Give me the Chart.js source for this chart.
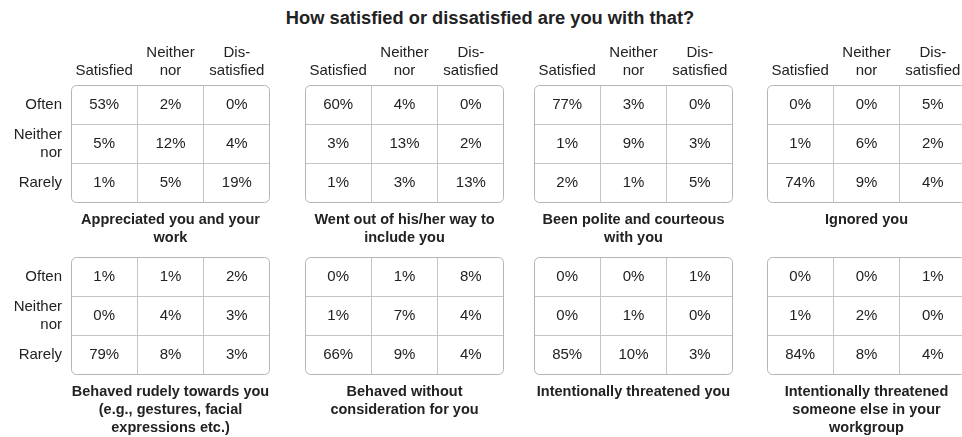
<!DOCTYPE html>
<html>
<head>
<meta charset="utf-8">
<script src="https://cdn.jsdelivr.net/npm/chart.js@4"></script>
<style>
    html, body { margin: 0; padding: 0; background: #fff; overflow: hidden; width: 962px; height: 437px; }
    body { position: relative; font-family: "Liberation Sans", Arial, sans-serif; color: #222; }
    #mainTitle {
        position: absolute; top: 7px; left: 490px; transform: translateX(-50%);
        font-weight: bold; font-size: 18.3px; line-height: 22px; white-space: nowrap;
    }
    canvas { position: absolute; }
</style>
</head>
<body>
<div id="mainTitle">How satisfied or dissatisfied are you with that?</div>

<script>
// Kategori
const satisfaction = ['Satisfied', 'Neither nor', 'Dis- satisfied'];
const frequency = ['Often', 'Neither nor', 'Rarely'];

// Nilai per panel (baris: Often, Neither nor, Rarely)
const appreciated = [[53, 2, 0], [5, 12, 4], [1, 5, 19]];
const wentOutOfWay = [[60, 4, 0], [3, 13, 2], [1, 3, 13]];
const polite = [[77, 3, 0], [1, 9, 3], [2, 1, 5]];
const ignored = [[0, 0, 5], [1, 6, 2], [74, 9, 4]];
const rude = [[1, 1, 2], [0, 4, 3], [79, 8, 3]];
const withoutConsideration = [[0, 1, 8], [1, 7, 4], [66, 9, 4]];
const threatenedYou = [[0, 0, 1], [0, 1, 0], [85, 10, 3]];
const threatenedOthers = [[0, 0, 1], [1, 2, 0], [84, 8, 4]];

// Judul panel
const titleAppreciated = ['Appreciated you and your', 'work'];
const titleWentOut = ['Went out of his/her way to', 'include you'];
const titlePolite = ['Been polite and courteous', 'with you'];
const titleIgnored = ['Ignored you'];
const titleRude = ['Behaved rudely towards you', '(e.g., gestures, facial', 'expressions etc.)'];
const titleWithout = ['Behaved without', 'consideration for you'];
const titleThreatYou = ['Intentionally threatened you'];
const titleThreatOthers = ['Intentionally threatened', 'someone else in your', 'workgroup'];

const FONT = '"Liberation Sans", Arial, sans-serif';
const TEXT = '#222';
const GRID = '#c4c4c4';
const BORDER = '#b4b4b4';

const AXIS_W = 65, AXIS_H = 45, AREA_W = 199, AREA_H = 118, TITLE_H = 70;

// Kotak tabel dengan sudut membulat
const boxPlugin = {
    id: 'tableBox',
    afterDatasetsDraw(chart) {
        const a = chart.chartArea;
        const ctx = chart.ctx;
        ctx.save();
        ctx.strokeStyle = BORDER;
        ctx.lineWidth = 1;
        ctx.beginPath();
        ctx.roundRect(a.left + 0.5, a.top + 0.5, a.right - a.left - 1, a.bottom - a.top - 1, 5);
        ctx.stroke();
        ctx.restore();
    }
};

// Angka persen di tengah sel
const cellPlugin = {
    id: 'cellText',
    afterDatasetsDraw(chart) {
        const ctx = chart.ctx;
        const meta = chart.getDatasetMeta(0);
        const data = chart.data.datasets[0].data;
        ctx.save();
        ctx.font = '15px ' + FONT;
        ctx.fillStyle = TEXT;
        ctx.textAlign = 'center';
        ctx.textBaseline = 'middle';
        meta.data.forEach((pt, i) => {
            ctx.fillText(data[i].v + '%', pt.x, pt.y);
        });
        ctx.restore();
    }
};

function gridColor(ctx) {
    if (ctx.type !== 'tick' || ctx.index === 0) return 'transparent';
    return GRID;
}

function makePanel(left, top, values, title, showHeader, showRows) {
    const canvas = document.createElement('canvas');
    canvas.width = AXIS_W * 2 + AREA_W;
    canvas.height = AXIS_H + AREA_H + TITLE_H;
    canvas.style.left = (left - AXIS_W) + 'px';
    canvas.style.top = (top - AXIS_H) + 'px';
    document.body.appendChild(canvas);

    const points = [];
    values.forEach((row, r) => {
        row.forEach((v, c) => {
            points.push({ x: satisfaction[c], y: frequency[r], v: v });
        });
    });

    new Chart(canvas.getContext('2d'), {
        type: 'scatter',
        data: {
            datasets: [{ data: points, pointRadius: 0, pointHoverRadius: 0 }]
        },
        options: {
            responsive: false,
            animation: false,
            events: [],
            layout: { padding: 0 },
            plugins: {
                legend: { display: false },
                tooltip: { enabled: false },
                title: {
                    display: true,
                    position: 'bottom',
                    fullSize: true,
                    text: title,
                    color: TEXT,
                    font: { family: FONT, size: 14.5, weight: 'bold', lineHeight: '18px' },
                    padding: { top: 8, bottom: 8 + (3 - title.length) * 18 }
                }
            },
            scales: {
                x: {
                    type: 'category',
                    labels: satisfaction,
                    position: 'top',
                    offset: true,
                    grid: { offset: true, drawTicks: false, color: gridColor },
                    border: { display: false },
                    ticks: {
                        display: showHeader,
                        padding: 5,
                        color: TEXT,
                        font: { family: FONT, size: 15, lineHeight: '18px' },
                        callback: function (value) { return this.getLabelForValue(value).split(' '); }
                    },
                    afterFit: (scale) => { scale.height = AXIS_H; }
                },
                y: {
                    type: 'category',
                    labels: frequency,
                    position: 'left',
                    offset: true,
                    grid: { offset: true, drawTicks: false, color: gridColor },
                    border: { display: false },
                    ticks: {
                        display: showRows,
                        padding: 9,
                        color: TEXT,
                        font: { family: FONT, size: 15, lineHeight: '18px' },
                        callback: function (value) { return this.getLabelForValue(value).split(' '); }
                    },
                    afterFit: (scale) => { scale.width = AXIS_W; }
                },
                // ruang kosong di kanan supaya judul tetap di tengah tabel
                y2: {
                    type: 'linear',
                    position: 'right',
                    min: 0,
                    max: 1,
                    grid: { display: false },
                    border: { display: false },
                    ticks: { display: false },
                    afterFit: (scale) => { scale.width = AXIS_W; }
                }
            }
        },
        plugins: [boxPlugin, cellPlugin]
    });
}

// Baris atas
makePanel(71, 85, appreciated, titleAppreciated, true, true);
makePanel(305, 85, wentOutOfWay, titleWentOut, true, false);
makePanel(534, 85, polite, titlePolite, true, false);
makePanel(767, 85, ignored, titleIgnored, true, false);

// Baris bawah
makePanel(71, 257, rude, titleRude, false, true);
makePanel(305, 257, withoutConsideration, titleWithout, false, false);
makePanel(534, 257, threatenedYou, titleThreatYou, false, false);
makePanel(767, 257, threatenedOthers, titleThreatOthers, false, false);
</script>
</body>
</html>
